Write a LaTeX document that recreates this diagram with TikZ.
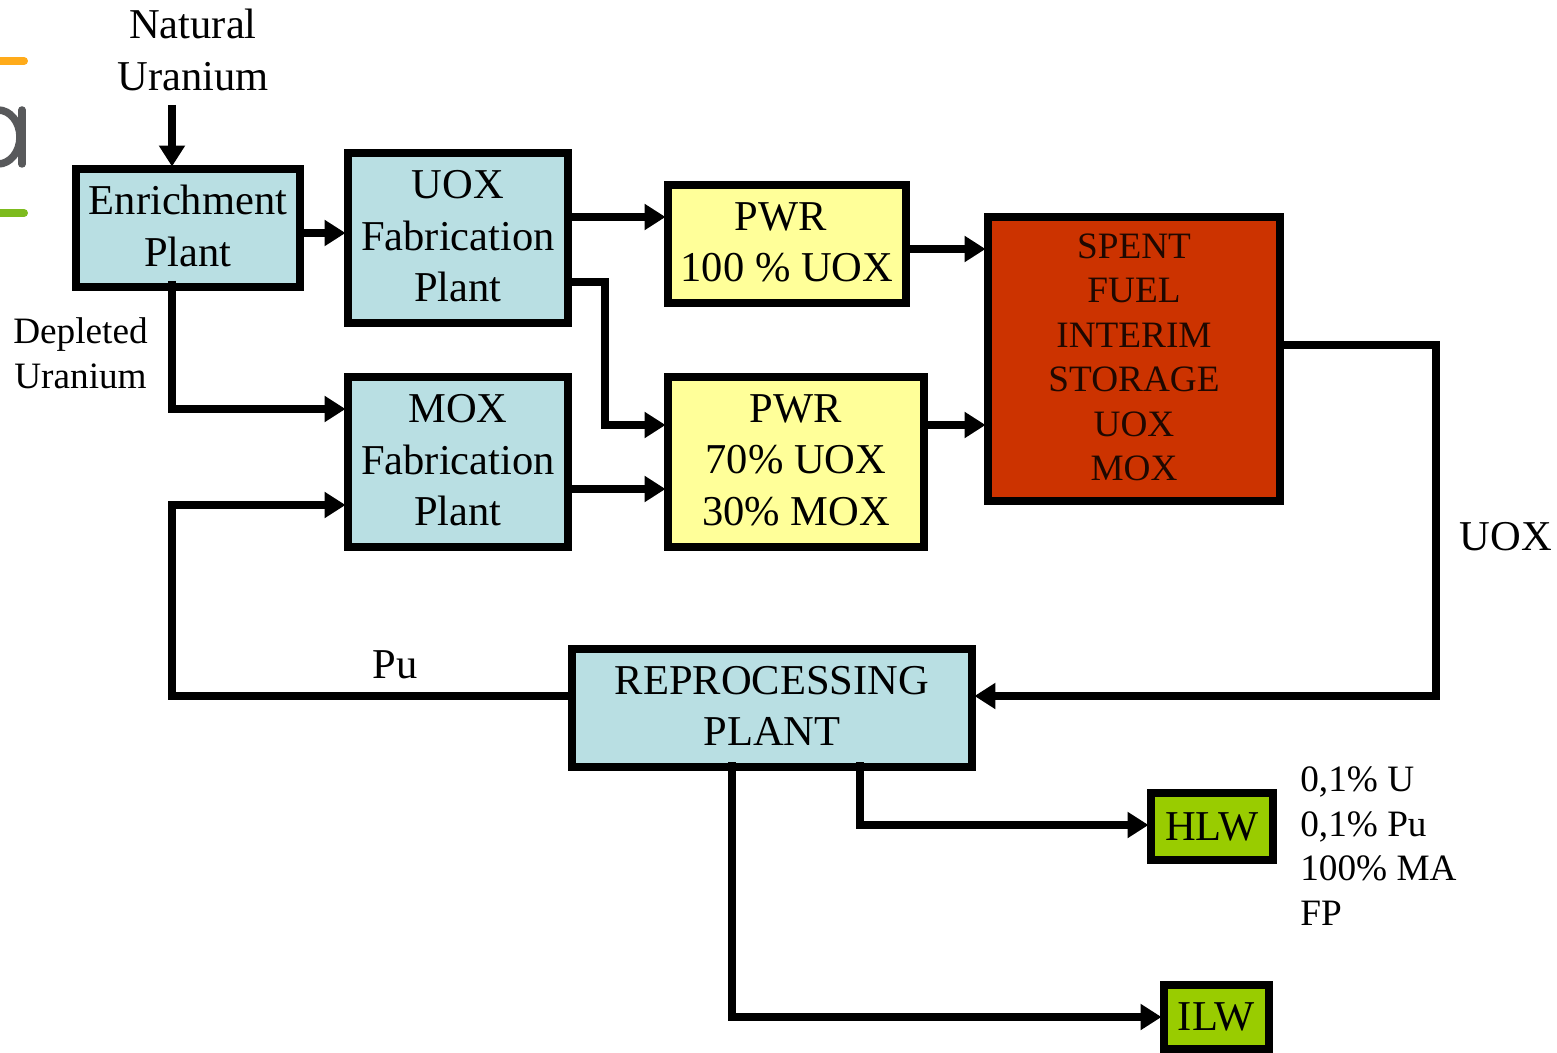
\documentclass[tikz,border=0pt]{standalone}
\usepackage{fontspec}
\setmainfont{Liberation Serif}
\usepackage{xcolor}
\usetikzlibrary{arrows.meta,positioning,calc}

\definecolor{plantblue}{HTML}{B9DFE3}
\definecolor{reactoryellow}{HTML}{FFFF99}
\definecolor{storagered}{HTML}{CC3300}
\definecolor{wastegreen}{HTML}{99CC00}
\definecolor{logoorange}{HTML}{FFAB1A}
\definecolor{logogreen}{HTML}{7DBB1E}
\definecolor{logogray}{HTML}{58595B}

\begin{document}
\begin{tikzpicture}[
        x=0.02cm, y=-0.02cm,
        block/.style={rectangle, draw=black, line width=0.16cm, align=center, inner sep=0pt, text depth=0.08cm, font=\fontsize{24.2}{29.5}\selectfont},
        plant/.style={block, fill=plantblue},
        reactor/.style={block, fill=reactoryellow},
        storage/.style={block, fill=storagered, font=\fontsize{21.2}{25.3}\selectfont, text=black!85!storagered},
        waste/.style={block, fill=wastegreen, text depth=0pt},
        arrow/.style={-{Triangle[length=0.42cm,width=0.5cm]}, line width=0.15cm, shorten >=-0.03cm},
        label/.style={align=center, inner sep=0pt, font=\fontsize{24.2}{29.5}\selectfont},
        smalllabel/.style={align=left, inner sep=0pt, font=\fontsize{21.2}{25.4}\selectfont}
    ]
    \useasboundingbox (0,0) rectangle (1557,1053);

    % logo remains at the left edge
    \draw[line width=0.16cm, line cap=round, color=logoorange] (-10,61) -- (24,61);
    \draw[line width=0.16cm, line cap=round, color=logogreen] (-10,213) -- (24,213);
    \draw[line width=0.15cm, line cap=round, color=logogray] (22,110) -- (22,164);
    \draw[line width=0.15cm, color=logogray] (-2,110) arc[start angle=90, end angle=-90, x radius=22, y radius=-27];

    \node[plant, minimum width=4.48cm, minimum height=2.36cm] (enrich) at (188,228) {Enrichment\\Plant};
    \node[plant, minimum width=4.4cm, minimum height=3.4cm] (uoxfab) at (458,238) {UOX\\Fabrication\\Plant};
    \node[plant, minimum width=4.4cm, minimum height=3.4cm] (moxfab) at (458,462) {MOX\\Fabrication\\Plant};
    \node[reactor, minimum width=4.76cm, minimum height=2.36cm] (pwrfull) at (787,244) {PWR\rule{0.24cm}{0pt}\\100 \% UOX};
    \node[reactor, minimum width=5.12cm, minimum height=3.4cm] (pwrmix) at (796,462) {PWR\\70\% UOX\\30\% MOX};
    \node[storage, minimum width=5.84cm, minimum height=5.68cm] (spent) at (1134,359) {SPENT\\FUEL\\INTERIM\\STORAGE\\UOX\\MOX};
    \node[plant, minimum width=8cm, minimum height=2.36cm] (repro) at (772,708) {REPROCESSING\\PLANT};
    \node[waste, minimum width=2.44cm, minimum height=1.34cm] (hlw) at (1212,826.5) {HLW};
    \node[waste, minimum width=2.1cm, minimum height=1.28cm] (ilw) at (1216.5,1017) {ILW};

    \node[label] (natural) at (193,50) {Natural\\Uranium};
    \node[smalllabel, align=center] (depleted) at (80.5,353.5) {Depleted\\Uranium};
    \node[label] (pu) at (395,665) {Pu};
    \node[label] (uoxback) at (1506,536.5) {UOX};
    \node[smalllabel, anchor=west] (hlwlist) at (1300,846) {0,1\% U\\0,1\% Pu\\100\% MA\\FP};

    \coordinate (naturalend) at (172,105);
    \coordinate (depletedstart) at (172,281);
    \coordinate (uoxbend) at (605,282);
    \coordinate (pubend) at (172,696);
    \coordinate (backbend) at (1436,345);
    \coordinate (hlwstart) at (860,762);
    \coordinate (ilwstart) at (732,762);

\draw[arrow] (naturalend) -- (naturalend |- enrich.north);
\draw[arrow] (enrich.east |- 0,233) -- (uoxfab.west |- 0,233);
\draw[arrow] (uoxfab.east |- 0,217) -- (pwrfull.west |- 0,217);
\draw[arrow] (uoxfab.east |- uoxbend) -- (uoxbend) |- (pwrmix.west |- 0,425);
\draw[arrow] (pwrfull.east |- 0,249) -- (spent.west |- 0,249);
\draw[arrow] (pwrmix.east |- 0,425) -- (spent.west |- 0,425);
\draw[arrow] (depletedstart) |- (moxfab.west |- 0,409);
\draw[arrow] (moxfab.east |- 0,489) -- (pwrmix.west |- 0,489);
\draw[arrow] (repro.west |- pubend) -- (pubend) |- (moxfab.west |- 0,505);
\draw[arrow] (spent.east |- backbend) -- (backbend) |- (repro.east |- 0,696);
\draw[arrow] (hlwstart) |- (hlw.west |- 0,825);
\draw[arrow] (ilwstart) |- (ilw.west);

    \end{tikzpicture}
\end{document}
